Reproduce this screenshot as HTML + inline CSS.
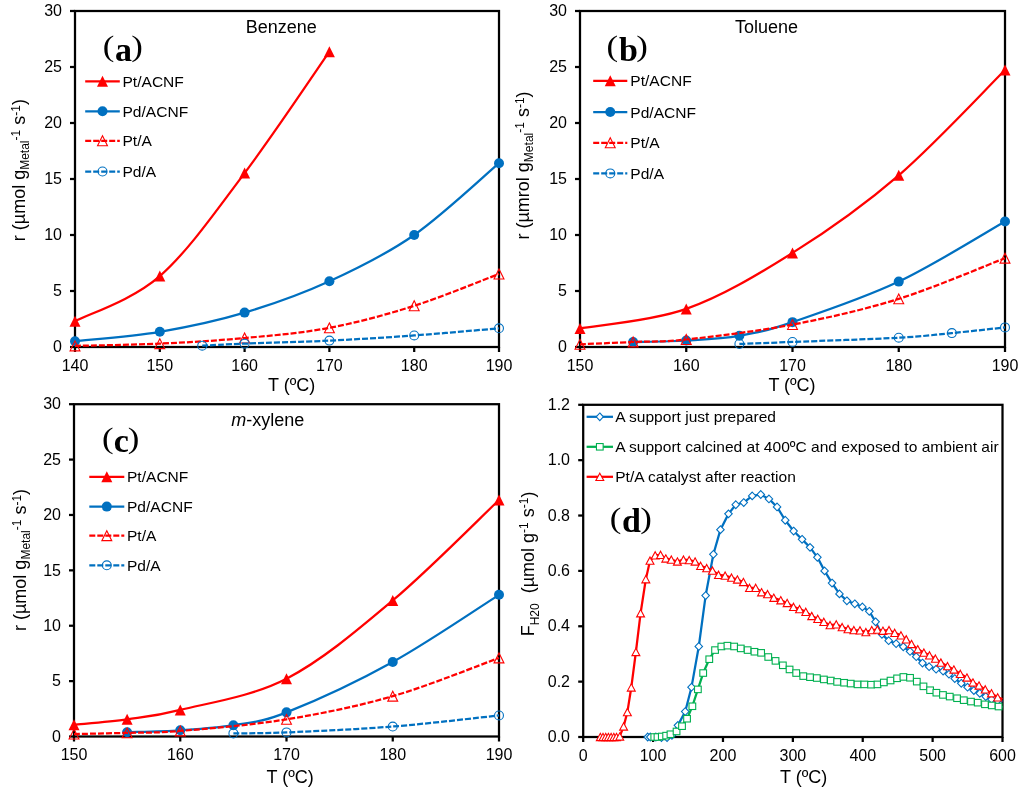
<!DOCTYPE html>
<html><head><meta charset="utf-8"><style>
html,body{margin:0;padding:0;background:#fff;width:1024px;height:793px;overflow:hidden;}
svg{display:block;will-change:transform;}
text{fill:#000;white-space:pre;}
</style></head><body>
<svg width="1024" height="793" viewBox="0 0 1024 793">
<rect width="1024" height="793" fill="#fff"/>
<rect x="75" y="11" width="424" height="336" fill="none" stroke="#000" stroke-width="2.25"/>
<line x1="75" y1="347" x2="75" y2="352" stroke="#000" stroke-width="2.25"/>
<text x="75" y="371" font-size="16" text-anchor="middle" font-family="'Liberation Sans', sans-serif" >140</text>
<line x1="159.8" y1="347" x2="159.8" y2="352" stroke="#000" stroke-width="2.25"/>
<text x="159.8" y="371" font-size="16" text-anchor="middle" font-family="'Liberation Sans', sans-serif" >150</text>
<line x1="244.6" y1="347" x2="244.6" y2="352" stroke="#000" stroke-width="2.25"/>
<text x="244.6" y="371" font-size="16" text-anchor="middle" font-family="'Liberation Sans', sans-serif" >160</text>
<line x1="329.4" y1="347" x2="329.4" y2="352" stroke="#000" stroke-width="2.25"/>
<text x="329.4" y="371" font-size="16" text-anchor="middle" font-family="'Liberation Sans', sans-serif" >170</text>
<line x1="414.2" y1="347" x2="414.2" y2="352" stroke="#000" stroke-width="2.25"/>
<text x="414.2" y="371" font-size="16" text-anchor="middle" font-family="'Liberation Sans', sans-serif" >180</text>
<line x1="499" y1="347" x2="499" y2="352" stroke="#000" stroke-width="2.25"/>
<text x="499" y="371" font-size="16" text-anchor="middle" font-family="'Liberation Sans', sans-serif" >190</text>
<line x1="70" y1="347" x2="75" y2="347" stroke="#000" stroke-width="2.25"/>
<text x="62" y="352.2" font-size="16" text-anchor="end" font-family="'Liberation Sans', sans-serif" >0</text>
<line x1="70" y1="291" x2="75" y2="291" stroke="#000" stroke-width="2.25"/>
<text x="62" y="296.2" font-size="16" text-anchor="end" font-family="'Liberation Sans', sans-serif" >5</text>
<line x1="70" y1="235" x2="75" y2="235" stroke="#000" stroke-width="2.25"/>
<text x="62" y="240.2" font-size="16" text-anchor="end" font-family="'Liberation Sans', sans-serif" >10</text>
<line x1="70" y1="179" x2="75" y2="179" stroke="#000" stroke-width="2.25"/>
<text x="62" y="184.2" font-size="16" text-anchor="end" font-family="'Liberation Sans', sans-serif" >15</text>
<line x1="70" y1="123" x2="75" y2="123" stroke="#000" stroke-width="2.25"/>
<text x="62" y="128.2" font-size="16" text-anchor="end" font-family="'Liberation Sans', sans-serif" >20</text>
<line x1="70" y1="67" x2="75" y2="67" stroke="#000" stroke-width="2.25"/>
<text x="62" y="72.2" font-size="16" text-anchor="end" font-family="'Liberation Sans', sans-serif" >25</text>
<line x1="70" y1="11" x2="75" y2="11" stroke="#000" stroke-width="2.25"/>
<text x="62" y="16.2" font-size="16" text-anchor="end" font-family="'Liberation Sans', sans-serif" >30</text>
<rect x="580" y="11" width="425" height="336" fill="none" stroke="#000" stroke-width="2.25"/>
<line x1="580" y1="347" x2="580" y2="352" stroke="#000" stroke-width="2.25"/>
<text x="580" y="371" font-size="16" text-anchor="middle" font-family="'Liberation Sans', sans-serif" >150</text>
<line x1="686.25" y1="347" x2="686.25" y2="352" stroke="#000" stroke-width="2.25"/>
<text x="686.25" y="371" font-size="16" text-anchor="middle" font-family="'Liberation Sans', sans-serif" >160</text>
<line x1="792.5" y1="347" x2="792.5" y2="352" stroke="#000" stroke-width="2.25"/>
<text x="792.5" y="371" font-size="16" text-anchor="middle" font-family="'Liberation Sans', sans-serif" >170</text>
<line x1="898.75" y1="347" x2="898.75" y2="352" stroke="#000" stroke-width="2.25"/>
<text x="898.75" y="371" font-size="16" text-anchor="middle" font-family="'Liberation Sans', sans-serif" >180</text>
<line x1="1005" y1="347" x2="1005" y2="352" stroke="#000" stroke-width="2.25"/>
<text x="1005" y="371" font-size="16" text-anchor="middle" font-family="'Liberation Sans', sans-serif" >190</text>
<line x1="575" y1="347" x2="580" y2="347" stroke="#000" stroke-width="2.25"/>
<text x="567" y="352.2" font-size="16" text-anchor="end" font-family="'Liberation Sans', sans-serif" >0</text>
<line x1="575" y1="291" x2="580" y2="291" stroke="#000" stroke-width="2.25"/>
<text x="567" y="296.2" font-size="16" text-anchor="end" font-family="'Liberation Sans', sans-serif" >5</text>
<line x1="575" y1="235" x2="580" y2="235" stroke="#000" stroke-width="2.25"/>
<text x="567" y="240.2" font-size="16" text-anchor="end" font-family="'Liberation Sans', sans-serif" >10</text>
<line x1="575" y1="179" x2="580" y2="179" stroke="#000" stroke-width="2.25"/>
<text x="567" y="184.2" font-size="16" text-anchor="end" font-family="'Liberation Sans', sans-serif" >15</text>
<line x1="575" y1="123" x2="580" y2="123" stroke="#000" stroke-width="2.25"/>
<text x="567" y="128.2" font-size="16" text-anchor="end" font-family="'Liberation Sans', sans-serif" >20</text>
<line x1="575" y1="67" x2="580" y2="67" stroke="#000" stroke-width="2.25"/>
<text x="567" y="72.2" font-size="16" text-anchor="end" font-family="'Liberation Sans', sans-serif" >25</text>
<line x1="575" y1="11" x2="580" y2="11" stroke="#000" stroke-width="2.25"/>
<text x="567" y="16.2" font-size="16" text-anchor="end" font-family="'Liberation Sans', sans-serif" >30</text>
<rect x="74" y="404.2" width="425" height="332.3" fill="none" stroke="#000" stroke-width="2.25"/>
<line x1="74" y1="736.5" x2="74" y2="741.5" stroke="#000" stroke-width="2.25"/>
<text x="74" y="760" font-size="16" text-anchor="middle" font-family="'Liberation Sans', sans-serif" >150</text>
<line x1="180.25" y1="736.5" x2="180.25" y2="741.5" stroke="#000" stroke-width="2.25"/>
<text x="180.25" y="760" font-size="16" text-anchor="middle" font-family="'Liberation Sans', sans-serif" >160</text>
<line x1="286.5" y1="736.5" x2="286.5" y2="741.5" stroke="#000" stroke-width="2.25"/>
<text x="286.5" y="760" font-size="16" text-anchor="middle" font-family="'Liberation Sans', sans-serif" >170</text>
<line x1="392.75" y1="736.5" x2="392.75" y2="741.5" stroke="#000" stroke-width="2.25"/>
<text x="392.75" y="760" font-size="16" text-anchor="middle" font-family="'Liberation Sans', sans-serif" >180</text>
<line x1="499" y1="736.5" x2="499" y2="741.5" stroke="#000" stroke-width="2.25"/>
<text x="499" y="760" font-size="16" text-anchor="middle" font-family="'Liberation Sans', sans-serif" >190</text>
<line x1="69" y1="736.5" x2="74" y2="736.5" stroke="#000" stroke-width="2.25"/>
<text x="61" y="741.7" font-size="16" text-anchor="end" font-family="'Liberation Sans', sans-serif" >0</text>
<line x1="69" y1="681.12" x2="74" y2="681.12" stroke="#000" stroke-width="2.25"/>
<text x="61" y="686.32" font-size="16" text-anchor="end" font-family="'Liberation Sans', sans-serif" >5</text>
<line x1="69" y1="625.73" x2="74" y2="625.73" stroke="#000" stroke-width="2.25"/>
<text x="61" y="630.93" font-size="16" text-anchor="end" font-family="'Liberation Sans', sans-serif" >10</text>
<line x1="69" y1="570.35" x2="74" y2="570.35" stroke="#000" stroke-width="2.25"/>
<text x="61" y="575.55" font-size="16" text-anchor="end" font-family="'Liberation Sans', sans-serif" >15</text>
<line x1="69" y1="514.97" x2="74" y2="514.97" stroke="#000" stroke-width="2.25"/>
<text x="61" y="520.17" font-size="16" text-anchor="end" font-family="'Liberation Sans', sans-serif" >20</text>
<line x1="69" y1="459.58" x2="74" y2="459.58" stroke="#000" stroke-width="2.25"/>
<text x="61" y="464.78" font-size="16" text-anchor="end" font-family="'Liberation Sans', sans-serif" >25</text>
<line x1="69" y1="404.2" x2="74" y2="404.2" stroke="#000" stroke-width="2.25"/>
<text x="61" y="409.4" font-size="16" text-anchor="end" font-family="'Liberation Sans', sans-serif" >30</text>
<rect x="583.2" y="404.8" width="419.3" height="332.2" fill="none" stroke="#000" stroke-width="2.25"/>
<line x1="583.2" y1="737" x2="583.2" y2="742" stroke="#000" stroke-width="2.25"/>
<text x="583.2" y="760.5" font-size="16" text-anchor="middle" font-family="'Liberation Sans', sans-serif" >0</text>
<line x1="653.08" y1="737" x2="653.08" y2="742" stroke="#000" stroke-width="2.25"/>
<text x="653.08" y="760.5" font-size="16" text-anchor="middle" font-family="'Liberation Sans', sans-serif" >100</text>
<line x1="722.97" y1="737" x2="722.97" y2="742" stroke="#000" stroke-width="2.25"/>
<text x="722.97" y="760.5" font-size="16" text-anchor="middle" font-family="'Liberation Sans', sans-serif" >200</text>
<line x1="792.85" y1="737" x2="792.85" y2="742" stroke="#000" stroke-width="2.25"/>
<text x="792.85" y="760.5" font-size="16" text-anchor="middle" font-family="'Liberation Sans', sans-serif" >300</text>
<line x1="862.73" y1="737" x2="862.73" y2="742" stroke="#000" stroke-width="2.25"/>
<text x="862.73" y="760.5" font-size="16" text-anchor="middle" font-family="'Liberation Sans', sans-serif" >400</text>
<line x1="932.62" y1="737" x2="932.62" y2="742" stroke="#000" stroke-width="2.25"/>
<text x="932.62" y="760.5" font-size="16" text-anchor="middle" font-family="'Liberation Sans', sans-serif" >500</text>
<line x1="1002.5" y1="737" x2="1002.5" y2="742" stroke="#000" stroke-width="2.25"/>
<text x="1002.5" y="760.5" font-size="16" text-anchor="middle" font-family="'Liberation Sans', sans-serif" >600</text>
<line x1="578.2" y1="737" x2="583.2" y2="737" stroke="#000" stroke-width="2.25"/>
<text x="570" y="742.2" font-size="16" text-anchor="end" font-family="'Liberation Sans', sans-serif" >0.0</text>
<line x1="578.2" y1="681.63" x2="583.2" y2="681.63" stroke="#000" stroke-width="2.25"/>
<text x="570" y="686.83" font-size="16" text-anchor="end" font-family="'Liberation Sans', sans-serif" >0.2</text>
<line x1="578.2" y1="626.27" x2="583.2" y2="626.27" stroke="#000" stroke-width="2.25"/>
<text x="570" y="631.47" font-size="16" text-anchor="end" font-family="'Liberation Sans', sans-serif" >0.4</text>
<line x1="578.2" y1="570.9" x2="583.2" y2="570.9" stroke="#000" stroke-width="2.25"/>
<text x="570" y="576.1" font-size="16" text-anchor="end" font-family="'Liberation Sans', sans-serif" >0.6</text>
<line x1="578.2" y1="515.53" x2="583.2" y2="515.53" stroke="#000" stroke-width="2.25"/>
<text x="570" y="520.73" font-size="16" text-anchor="end" font-family="'Liberation Sans', sans-serif" >0.8</text>
<line x1="578.2" y1="460.17" x2="583.2" y2="460.17" stroke="#000" stroke-width="2.25"/>
<text x="570" y="465.37" font-size="16" text-anchor="end" font-family="'Liberation Sans', sans-serif" >1.0</text>
<line x1="578.2" y1="404.8" x2="583.2" y2="404.8" stroke="#000" stroke-width="2.25"/>
<text x="570" y="410" font-size="16" text-anchor="end" font-family="'Liberation Sans', sans-serif" >1.2</text>
<path d="M75,321.24 C89.13,313.72 131.53,300.8 159.8,276.1 C188.07,251.41 216.33,210.47 244.6,173.06 C272.87,135.66 315.27,71.89 329.4,51.66" fill="none" stroke="#FF0000" stroke-width="2.25" stroke-linejoin="round"/>
<path d="M75,315.74 L80.5,326.74 L69.5,326.74 Z" fill="#FF0000"/>
<path d="M159.8,270.6 L165.3,281.6 L154.3,281.6 Z" fill="#FF0000"/>
<path d="M244.6,167.56 L250.1,178.56 L239.1,178.56 Z" fill="#FF0000"/>
<path d="M329.4,46.16 L334.9,57.16 L323.9,57.16 Z" fill="#FF0000"/>
<path d="M75,341.18 C89.13,339.61 131.53,336.53 159.8,331.77 C188.07,327.01 216.33,321.03 244.6,312.62 C272.87,304.2 301.13,294.19 329.4,281.26 C357.67,268.32 385.93,254.67 414.2,235 C442.47,215.33 484.87,175.17 499,163.21" fill="none" stroke="#0070C0" stroke-width="2.25" stroke-linejoin="round"/>
<circle cx="75" cy="341.18" r="5" fill="#0070C0"/>
<circle cx="159.8" cy="331.77" r="5" fill="#0070C0"/>
<circle cx="244.6" cy="312.62" r="5" fill="#0070C0"/>
<circle cx="329.4" cy="281.26" r="5" fill="#0070C0"/>
<circle cx="414.2" cy="235" r="5" fill="#0070C0"/>
<circle cx="499" cy="163.21" r="5" fill="#0070C0"/>
<path d="M75,345.88 C89.13,345.51 131.53,344.95 159.8,343.64 C188.07,342.33 216.33,340.67 244.6,338.04 C272.87,335.41 301.13,333.22 329.4,327.85 C357.67,322.47 385.93,314.76 414.2,305.78 C442.47,296.81 484.87,279.28 499,273.98" fill="none" stroke="#FF0000" stroke-width="2.25" stroke-dasharray="6 2" stroke-linejoin="round"/>
<path d="M75,340.93 L79.95,350.83 L70.05,350.83 Z" fill="none" stroke="#FF0000" stroke-width="1.1" stroke-linejoin="miter"/>
<path d="M159.8,338.69 L164.75,348.59 L154.85,348.59 Z" fill="none" stroke="#FF0000" stroke-width="1.1" stroke-linejoin="miter"/>
<path d="M244.6,333.09 L249.55,342.99 L239.65,342.99 Z" fill="none" stroke="#FF0000" stroke-width="1.1" stroke-linejoin="miter"/>
<path d="M329.4,322.9 L334.35,332.8 L324.45,332.8 Z" fill="none" stroke="#FF0000" stroke-width="1.1" stroke-linejoin="miter"/>
<path d="M414.2,300.83 L419.15,310.73 L409.25,310.73 Z" fill="none" stroke="#FF0000" stroke-width="1.1" stroke-linejoin="miter"/>
<path d="M499,269.03 L503.95,278.93 L494.05,278.93 Z" fill="none" stroke="#FF0000" stroke-width="1.1" stroke-linejoin="miter"/>
<path d="M202.2,345.66 C209.27,345.32 223.4,344.48 244.6,343.64 C265.8,342.8 301.13,341.98 329.4,340.62 C357.67,339.25 385.93,337.52 414.2,335.46 C442.47,333.41 484.87,329.49 499,328.3" fill="none" stroke="#0070C0" stroke-width="2.25" stroke-dasharray="6 2" stroke-linejoin="round"/>
<circle cx="202.2" cy="345.66" r="4.45" fill="none" stroke="#0070C0" stroke-width="1.1"/>
<circle cx="244.6" cy="343.64" r="4.45" fill="none" stroke="#0070C0" stroke-width="1.1"/>
<circle cx="329.4" cy="340.62" r="4.45" fill="none" stroke="#0070C0" stroke-width="1.1"/>
<circle cx="414.2" cy="335.46" r="4.45" fill="none" stroke="#0070C0" stroke-width="1.1"/>
<circle cx="499" cy="328.3" r="4.45" fill="none" stroke="#0070C0" stroke-width="1.1"/>
<text x="281.3" y="32.7" font-size="18" text-anchor="middle" font-family="'Liberation Sans', sans-serif" >Benzene</text>
<text transform="translate(102.74,56.4) scale(1.16,1)" font-family="'Liberation Serif', serif" font-size="30">(</text>
<text x="115" y="60.6" font-family="'Liberation Serif', serif" font-size="34" font-weight="bold">a</text>
<text transform="translate(131.24,56.4) scale(1.16,1)" font-family="'Liberation Serif', serif" font-size="30">)</text>
<line x1="85.2" y1="81.3" x2="119.8" y2="81.3" stroke="#FF0000" stroke-width="2.25"/>
<path d="M102.5,75.8 L108,86.8 L97,86.8 Z" fill="#FF0000"/>
<text x="122.5" y="86.8" font-size="15.55" text-anchor="start" font-family="'Liberation Sans', sans-serif" >Pt/ACNF</text>
<line x1="85.2" y1="111.3" x2="119.8" y2="111.3" stroke="#0070C0" stroke-width="2.25"/>
<circle cx="102.5" cy="111.3" r="5" fill="#0070C0"/>
<text x="122.5" y="116.8" font-size="15.55" text-anchor="start" font-family="'Liberation Sans', sans-serif" >Pd/ACNF</text>
<line x1="85.2" y1="140.8" x2="119.8" y2="140.8" stroke="#FF0000" stroke-width="2.25" stroke-dasharray="6 2"/>
<path d="M102.5,135.85 L107.45,145.75 L97.55,145.75 Z" fill="none" stroke="#FF0000" stroke-width="1.1" stroke-linejoin="miter"/>
<text x="122.5" y="146.3" font-size="15.55" text-anchor="start" font-family="'Liberation Sans', sans-serif" >Pt/A</text>
<line x1="85.2" y1="171.5" x2="119.8" y2="171.5" stroke="#0070C0" stroke-width="2.25" stroke-dasharray="6 2"/>
<circle cx="102.5" cy="171.5" r="4.45" fill="none" stroke="#0070C0" stroke-width="1.1"/>
<text x="122.5" y="177" font-size="15.55" text-anchor="start" font-family="'Liberation Sans', sans-serif" >Pd/A</text>
<text transform="translate(25,241.2) rotate(-90)" x="0" y="0" font-family="'Liberation Sans', sans-serif" font-size="18">r (µmol g<tspan font-size="12" dy="4">Metal</tspan><tspan font-size="12" dy="-9">-1</tspan><tspan dy="5"> s</tspan><tspan font-size="12" dy="-5">-1</tspan><tspan dy="5">)</tspan></text>
<text x="291.6" y="391" font-size="18" text-anchor="middle" font-family="'Liberation Sans', sans-serif" >T (ºC)</text>
<path d="M580,328.41 C597.71,325.16 650.83,321.5 686.25,308.92 C721.67,296.34 757.08,275.19 792.5,252.92 C827.92,230.65 863.33,205.79 898.75,175.3 C934.17,144.82 987.29,87.57 1005,70.02" fill="none" stroke="#FF0000" stroke-width="2.25" stroke-linejoin="round"/>
<path d="M580,322.91 L585.5,333.91 L574.5,333.91 Z" fill="#FF0000"/>
<path d="M686.25,303.42 L691.75,314.42 L680.75,314.42 Z" fill="#FF0000"/>
<path d="M792.5,247.42 L798,258.42 L787,258.42 Z" fill="#FF0000"/>
<path d="M898.75,169.8 L904.25,180.8 L893.25,180.8 Z" fill="#FF0000"/>
<path d="M1005,64.52 L1010.5,75.52 L999.5,75.52 Z" fill="#FF0000"/>
<path d="M633.12,342.07 C641.98,341.81 668.54,341.55 686.25,340.5 C703.96,339.46 721.67,338.86 739.38,335.8 C757.08,332.74 765.94,331.17 792.5,322.14 C819.06,313.1 863.33,298.35 898.75,281.59 C934.17,264.83 987.29,231.57 1005,221.56" fill="none" stroke="#0070C0" stroke-width="2.25" stroke-linejoin="round"/>
<circle cx="633.12" cy="342.07" r="5" fill="#0070C0"/>
<circle cx="686.25" cy="340.5" r="5" fill="#0070C0"/>
<circle cx="739.38" cy="335.8" r="5" fill="#0070C0"/>
<circle cx="792.5" cy="322.14" r="5" fill="#0070C0"/>
<circle cx="898.75" cy="281.59" r="5" fill="#0070C0"/>
<circle cx="1005" cy="221.56" r="5" fill="#0070C0"/>
<path d="M580,344.31 C588.85,343.92 615.42,342.76 633.12,341.96 C650.83,341.16 659.69,342.39 686.25,339.5 C712.81,336.6 757.08,331.38 792.5,324.6 C827.92,317.82 863.33,309.91 898.75,298.84 C934.17,287.77 987.29,264.96 1005,258.18" fill="none" stroke="#FF0000" stroke-width="2.25" stroke-dasharray="6 2" stroke-linejoin="round"/>
<path d="M580,339.36 L584.95,349.26 L575.05,349.26 Z" fill="none" stroke="#FF0000" stroke-width="1.1" stroke-linejoin="miter"/>
<path d="M633.12,337.01 L638.08,346.91 L628.17,346.91 Z" fill="none" stroke="#FF0000" stroke-width="1.1" stroke-linejoin="miter"/>
<path d="M686.25,334.55 L691.2,344.45 L681.3,344.45 Z" fill="none" stroke="#FF0000" stroke-width="1.1" stroke-linejoin="miter"/>
<path d="M792.5,319.65 L797.45,329.55 L787.55,329.55 Z" fill="none" stroke="#FF0000" stroke-width="1.1" stroke-linejoin="miter"/>
<path d="M898.75,293.89 L903.7,303.79 L893.8,303.79 Z" fill="none" stroke="#FF0000" stroke-width="1.1" stroke-linejoin="miter"/>
<path d="M1005,253.23 L1009.95,263.13 L1000.05,263.13 Z" fill="none" stroke="#FF0000" stroke-width="1.1" stroke-linejoin="miter"/>
<path d="M739.38,343.98 C748.23,343.64 765.94,343.01 792.5,341.96 C819.06,340.91 872.19,339.18 898.75,337.7 C925.31,336.23 934.17,334.83 951.88,333.11 C969.58,331.39 996.15,328.35 1005,327.4" fill="none" stroke="#0070C0" stroke-width="2.25" stroke-dasharray="6 2" stroke-linejoin="round"/>
<circle cx="739.38" cy="343.98" r="4.45" fill="none" stroke="#0070C0" stroke-width="1.1"/>
<circle cx="792.5" cy="341.96" r="4.45" fill="none" stroke="#0070C0" stroke-width="1.1"/>
<circle cx="898.75" cy="337.7" r="4.45" fill="none" stroke="#0070C0" stroke-width="1.1"/>
<circle cx="951.88" cy="333.11" r="4.45" fill="none" stroke="#0070C0" stroke-width="1.1"/>
<circle cx="1005" cy="327.4" r="4.45" fill="none" stroke="#0070C0" stroke-width="1.1"/>
<text x="766.6" y="33" font-size="18" text-anchor="middle" font-family="'Liberation Sans', sans-serif" >Toluene</text>
<text transform="translate(606.44,56.4) scale(1.16,1)" font-family="'Liberation Serif', serif" font-size="30">(</text>
<text x="619" y="60.6" font-family="'Liberation Serif', serif" font-size="34" font-weight="bold">b</text>
<text transform="translate(636.24,56.4) scale(1.16,1)" font-family="'Liberation Serif', serif" font-size="30">)</text>
<line x1="593.2" y1="80.8" x2="627.3" y2="80.8" stroke="#FF0000" stroke-width="2.25"/>
<path d="M610.25,75.3 L615.75,86.3 L604.75,86.3 Z" fill="#FF0000"/>
<text x="630.3" y="86.3" font-size="15.55" text-anchor="start" font-family="'Liberation Sans', sans-serif" >Pt/ACNF</text>
<line x1="593.2" y1="112" x2="627.3" y2="112" stroke="#0070C0" stroke-width="2.25"/>
<circle cx="610.25" cy="112" r="5" fill="#0070C0"/>
<text x="630.3" y="117.5" font-size="15.55" text-anchor="start" font-family="'Liberation Sans', sans-serif" >Pd/ACNF</text>
<line x1="593.2" y1="142.8" x2="627.3" y2="142.8" stroke="#FF0000" stroke-width="2.25" stroke-dasharray="6 2"/>
<path d="M610.25,137.85 L615.2,147.75 L605.3,147.75 Z" fill="none" stroke="#FF0000" stroke-width="1.1" stroke-linejoin="miter"/>
<text x="630.3" y="148.3" font-size="15.55" text-anchor="start" font-family="'Liberation Sans', sans-serif" >Pt/A</text>
<line x1="593.2" y1="173.4" x2="627.3" y2="173.4" stroke="#0070C0" stroke-width="2.25" stroke-dasharray="6 2"/>
<circle cx="610.25" cy="173.4" r="4.45" fill="none" stroke="#0070C0" stroke-width="1.1"/>
<text x="630.3" y="178.9" font-size="15.55" text-anchor="start" font-family="'Liberation Sans', sans-serif" >Pd/A</text>
<text transform="translate(529,239.5) rotate(-90)" x="0" y="0" font-family="'Liberation Sans', sans-serif" font-size="18">r (µmrol g<tspan font-size="12" dy="4">Metal</tspan><tspan font-size="12" dy="-9">-1</tspan><tspan dy="5"> s</tspan><tspan font-size="12" dy="-5">-1</tspan><tspan dy="5">)</tspan></text>
<text x="792" y="391" font-size="18" text-anchor="middle" font-family="'Liberation Sans', sans-serif" >T (ºC)</text>
<path d="M74,724.76 C82.85,723.85 109.42,721.8 127.12,719.33 C144.83,716.86 153.69,716.69 180.25,709.92 C206.81,703.14 251.08,696.92 286.5,678.68 C321.92,660.44 357.33,630.26 392.75,600.48 C428.17,570.7 481.29,516.76 499,500.01" fill="none" stroke="#FF0000" stroke-width="2.25" stroke-linejoin="round"/>
<path d="M74,719.26 L79.5,730.26 L68.5,730.26 Z" fill="#FF0000"/>
<path d="M127.12,713.83 L132.62,724.83 L121.62,724.83 Z" fill="#FF0000"/>
<path d="M180.25,704.42 L185.75,715.42 L174.75,715.42 Z" fill="#FF0000"/>
<path d="M286.5,673.18 L292,684.18 L281,684.18 Z" fill="#FF0000"/>
<path d="M392.75,594.98 L398.25,605.98 L387.25,605.98 Z" fill="#FF0000"/>
<path d="M499,494.51 L504.5,505.51 L493.5,505.51 Z" fill="#FF0000"/>
<path d="M127.12,732.18 C135.98,731.87 162.54,731.46 180.25,730.3 C197.96,729.13 215.67,728.19 233.38,725.2 C251.08,722.21 259.94,722.89 286.5,712.35 C313.06,701.81 357.33,681.54 392.75,661.95 C428.17,642.37 481.29,606.02 499,594.83" fill="none" stroke="#0070C0" stroke-width="2.25" stroke-linejoin="round"/>
<circle cx="127.12" cy="732.18" r="5" fill="#0070C0"/>
<circle cx="180.25" cy="730.3" r="5" fill="#0070C0"/>
<circle cx="233.38" cy="725.2" r="5" fill="#0070C0"/>
<circle cx="286.5" cy="712.35" r="5" fill="#0070C0"/>
<circle cx="392.75" cy="661.95" r="5" fill="#0070C0"/>
<circle cx="499" cy="594.83" r="5" fill="#0070C0"/>
<path d="M74,734.06 C82.85,733.86 109.42,733.36 127.12,732.84 C144.83,732.33 153.69,733.21 180.25,730.96 C206.81,728.71 251.08,725.13 286.5,719.33 C321.92,713.53 357.33,706.41 392.75,696.18 C428.17,685.95 481.29,664.34 499,657.97" fill="none" stroke="#FF0000" stroke-width="2.25" stroke-dasharray="6 2" stroke-linejoin="round"/>
<path d="M74,729.11 L78.95,739.01 L69.05,739.01 Z" fill="none" stroke="#FF0000" stroke-width="1.1" stroke-linejoin="miter"/>
<path d="M127.12,727.89 L132.07,737.79 L122.17,737.79 Z" fill="none" stroke="#FF0000" stroke-width="1.1" stroke-linejoin="miter"/>
<path d="M180.25,726.01 L185.2,735.91 L175.3,735.91 Z" fill="none" stroke="#FF0000" stroke-width="1.1" stroke-linejoin="miter"/>
<path d="M286.5,714.38 L291.45,724.28 L281.55,724.28 Z" fill="none" stroke="#FF0000" stroke-width="1.1" stroke-linejoin="miter"/>
<path d="M392.75,691.23 L397.7,701.13 L387.8,701.13 Z" fill="none" stroke="#FF0000" stroke-width="1.1" stroke-linejoin="miter"/>
<path d="M499,653.02 L503.95,662.92 L494.05,662.92 Z" fill="none" stroke="#FF0000" stroke-width="1.1" stroke-linejoin="miter"/>
<path d="M233.38,733.4 C242.23,733.23 259.94,733.55 286.5,732.4 C313.06,731.26 357.33,729.36 392.75,726.53 C428.17,723.71 481.29,717.3 499,715.45" fill="none" stroke="#0070C0" stroke-width="2.25" stroke-dasharray="6 2" stroke-linejoin="round"/>
<circle cx="233.38" cy="733.4" r="4.45" fill="none" stroke="#0070C0" stroke-width="1.1"/>
<circle cx="286.5" cy="732.4" r="4.45" fill="none" stroke="#0070C0" stroke-width="1.1"/>
<circle cx="392.75" cy="726.53" r="4.45" fill="none" stroke="#0070C0" stroke-width="1.1"/>
<circle cx="499" cy="715.45" r="4.45" fill="none" stroke="#0070C0" stroke-width="1.1"/>
<text x="267.7" y="425.8" font-size="18" text-anchor="middle" font-family="'Liberation Sans', sans-serif"><tspan font-style="italic">m</tspan>-xylene</text>
<text transform="translate(101.94,447.7) scale(1.16,1)" font-family="'Liberation Serif', serif" font-size="30">(</text>
<text x="113.7" y="451.9" font-family="'Liberation Serif', serif" font-size="34" font-weight="bold">c</text>
<text transform="translate(127.84,447.7) scale(1.16,1)" font-family="'Liberation Serif', serif" font-size="30">)</text>
<line x1="89.3" y1="476.8" x2="124.3" y2="476.8" stroke="#FF0000" stroke-width="2.25"/>
<path d="M106.8,471.3 L112.3,482.3 L101.3,482.3 Z" fill="#FF0000"/>
<text x="127" y="482.3" font-size="15.55" text-anchor="start" font-family="'Liberation Sans', sans-serif" >Pt/ACNF</text>
<line x1="89.3" y1="506.6" x2="124.3" y2="506.6" stroke="#0070C0" stroke-width="2.25"/>
<circle cx="106.8" cy="506.6" r="5" fill="#0070C0"/>
<text x="127" y="512.1" font-size="15.55" text-anchor="start" font-family="'Liberation Sans', sans-serif" >Pd/ACNF</text>
<line x1="89.3" y1="535.7" x2="124.3" y2="535.7" stroke="#FF0000" stroke-width="2.25" stroke-dasharray="6 2"/>
<path d="M106.8,530.75 L111.75,540.65 L101.85,540.65 Z" fill="none" stroke="#FF0000" stroke-width="1.1" stroke-linejoin="miter"/>
<text x="127" y="541.2" font-size="15.55" text-anchor="start" font-family="'Liberation Sans', sans-serif" >Pt/A</text>
<line x1="89.3" y1="565.3" x2="124.3" y2="565.3" stroke="#0070C0" stroke-width="2.25" stroke-dasharray="6 2"/>
<circle cx="106.8" cy="565.3" r="4.45" fill="none" stroke="#0070C0" stroke-width="1.1"/>
<text x="127" y="570.8" font-size="15.55" text-anchor="start" font-family="'Liberation Sans', sans-serif" >Pd/A</text>
<text transform="translate(25.5,631) rotate(-90)" x="0" y="0" font-family="'Liberation Sans', sans-serif" font-size="18">r (µmol g<tspan font-size="12" dy="4">Metal</tspan><tspan font-size="12" dy="-9">-1</tspan><tspan dy="5"> s</tspan><tspan font-size="12" dy="-5">-1</tspan><tspan dy="5">)</tspan></text>
<text x="290.2" y="782.7" font-size="18" text-anchor="middle" font-family="'Liberation Sans', sans-serif" >T (ºC)</text>
<path d="M647.7,737 L650.29,737 L655.88,737 L661.47,737.55 L667.06,737.55 L671.95,735.34 L677.89,725.37 L685.23,711.53 L691.52,687.17 L698.79,646.48 L705.64,595.54 L713.39,554.29 L720.45,529.65 L728.49,513.87 L735.76,504.74 L743.72,502.52 L752.18,495.88 L760.77,494.49 L768.95,498.92 L777.06,506.95 L785.23,520.24 L793.62,531.04 L802.07,539.34 L810.04,547.37 L817.38,557.34 L824.58,570.9 L832.05,583.08 L839.46,593.88 L846.87,600.8 L854.77,603.84 L862.38,606.89 L869.3,611.32 L875.59,621.84 L881.95,634.29 L888.66,640.66 L896.14,643.71 L903.27,646.75 L910.04,651.46 L916.26,656.72 L922.48,663.09 L929.12,666.68 L936.11,669.18 L943.1,671.11 L948.97,674.16 L954.77,678.59 L961.27,683.29 L967.56,687.17 L973.85,690.49 L979.79,693.26 L985.73,696.58 L991.53,699.35 L997.47,700.73 L1002.5,701.29" fill="none" stroke="#0070C0" stroke-width="2.25" stroke-linejoin="round"/>
<path d="M647.7,733.15 L651.45,737 L647.7,740.85 L643.95,737 Z" fill="#fff" stroke="#0070C0" stroke-width="1.1"/>
<path d="M650.29,733.15 L654.04,737 L650.29,740.85 L646.54,737 Z" fill="#fff" stroke="#0070C0" stroke-width="1.1"/>
<path d="M655.88,733.15 L659.63,737 L655.88,740.85 L652.13,737 Z" fill="#fff" stroke="#0070C0" stroke-width="1.1"/>
<path d="M661.47,733.7 L665.22,737.55 L661.47,741.4 L657.72,737.55 Z" fill="#fff" stroke="#0070C0" stroke-width="1.1"/>
<path d="M667.06,733.7 L670.81,737.55 L667.06,741.4 L663.31,737.55 Z" fill="#fff" stroke="#0070C0" stroke-width="1.1"/>
<path d="M671.95,731.49 L675.7,735.34 L671.95,739.19 L668.2,735.34 Z" fill="#fff" stroke="#0070C0" stroke-width="1.1"/>
<path d="M677.89,721.52 L681.64,725.37 L677.89,729.22 L674.14,725.37 Z" fill="#fff" stroke="#0070C0" stroke-width="1.1"/>
<path d="M685.23,707.68 L688.98,711.53 L685.23,715.38 L681.48,711.53 Z" fill="#fff" stroke="#0070C0" stroke-width="1.1"/>
<path d="M691.52,683.32 L695.27,687.17 L691.52,691.02 L687.77,687.17 Z" fill="#fff" stroke="#0070C0" stroke-width="1.1"/>
<path d="M698.79,642.63 L702.54,646.48 L698.79,650.33 L695.04,646.48 Z" fill="#fff" stroke="#0070C0" stroke-width="1.1"/>
<path d="M705.64,591.69 L709.39,595.54 L705.64,599.39 L701.89,595.54 Z" fill="#fff" stroke="#0070C0" stroke-width="1.1"/>
<path d="M713.39,550.44 L717.14,554.29 L713.39,558.14 L709.64,554.29 Z" fill="#fff" stroke="#0070C0" stroke-width="1.1"/>
<path d="M720.45,525.8 L724.2,529.65 L720.45,533.5 L716.7,529.65 Z" fill="#fff" stroke="#0070C0" stroke-width="1.1"/>
<path d="M728.49,510.02 L732.24,513.87 L728.49,517.72 L724.74,513.87 Z" fill="#fff" stroke="#0070C0" stroke-width="1.1"/>
<path d="M735.76,500.89 L739.51,504.74 L735.76,508.59 L732.01,504.74 Z" fill="#fff" stroke="#0070C0" stroke-width="1.1"/>
<path d="M743.72,498.67 L747.47,502.52 L743.72,506.37 L739.97,502.52 Z" fill="#fff" stroke="#0070C0" stroke-width="1.1"/>
<path d="M752.18,492.03 L755.93,495.88 L752.18,499.73 L748.43,495.88 Z" fill="#fff" stroke="#0070C0" stroke-width="1.1"/>
<path d="M760.77,490.64 L764.52,494.49 L760.77,498.34 L757.02,494.49 Z" fill="#fff" stroke="#0070C0" stroke-width="1.1"/>
<path d="M768.95,495.07 L772.7,498.92 L768.95,502.77 L765.2,498.92 Z" fill="#fff" stroke="#0070C0" stroke-width="1.1"/>
<path d="M777.06,503.1 L780.81,506.95 L777.06,510.8 L773.31,506.95 Z" fill="#fff" stroke="#0070C0" stroke-width="1.1"/>
<path d="M785.23,516.39 L788.98,520.24 L785.23,524.09 L781.48,520.24 Z" fill="#fff" stroke="#0070C0" stroke-width="1.1"/>
<path d="M793.62,527.19 L797.37,531.04 L793.62,534.89 L789.87,531.04 Z" fill="#fff" stroke="#0070C0" stroke-width="1.1"/>
<path d="M802.07,535.49 L805.82,539.34 L802.07,543.19 L798.32,539.34 Z" fill="#fff" stroke="#0070C0" stroke-width="1.1"/>
<path d="M810.04,543.52 L813.79,547.37 L810.04,551.22 L806.29,547.37 Z" fill="#fff" stroke="#0070C0" stroke-width="1.1"/>
<path d="M817.38,553.49 L821.13,557.34 L817.38,561.19 L813.63,557.34 Z" fill="#fff" stroke="#0070C0" stroke-width="1.1"/>
<path d="M824.58,567.05 L828.33,570.9 L824.58,574.75 L820.83,570.9 Z" fill="#fff" stroke="#0070C0" stroke-width="1.1"/>
<path d="M832.05,579.23 L835.8,583.08 L832.05,586.93 L828.3,583.08 Z" fill="#fff" stroke="#0070C0" stroke-width="1.1"/>
<path d="M839.46,590.03 L843.21,593.88 L839.46,597.73 L835.71,593.88 Z" fill="#fff" stroke="#0070C0" stroke-width="1.1"/>
<path d="M846.87,596.95 L850.62,600.8 L846.87,604.65 L843.12,600.8 Z" fill="#fff" stroke="#0070C0" stroke-width="1.1"/>
<path d="M854.77,599.99 L858.52,603.84 L854.77,607.69 L851.02,603.84 Z" fill="#fff" stroke="#0070C0" stroke-width="1.1"/>
<path d="M862.38,603.04 L866.13,606.89 L862.38,610.74 L858.63,606.89 Z" fill="#fff" stroke="#0070C0" stroke-width="1.1"/>
<path d="M869.3,607.47 L873.05,611.32 L869.3,615.17 L865.55,611.32 Z" fill="#fff" stroke="#0070C0" stroke-width="1.1"/>
<path d="M875.59,617.99 L879.34,621.84 L875.59,625.69 L871.84,621.84 Z" fill="#fff" stroke="#0070C0" stroke-width="1.1"/>
<path d="M881.95,630.44 L885.7,634.29 L881.95,638.14 L878.2,634.29 Z" fill="#fff" stroke="#0070C0" stroke-width="1.1"/>
<path d="M888.66,636.81 L892.41,640.66 L888.66,644.51 L884.91,640.66 Z" fill="#fff" stroke="#0070C0" stroke-width="1.1"/>
<path d="M896.14,639.86 L899.89,643.71 L896.14,647.56 L892.39,643.71 Z" fill="#fff" stroke="#0070C0" stroke-width="1.1"/>
<path d="M903.27,642.9 L907.02,646.75 L903.27,650.6 L899.52,646.75 Z" fill="#fff" stroke="#0070C0" stroke-width="1.1"/>
<path d="M910.04,647.61 L913.79,651.46 L910.04,655.31 L906.29,651.46 Z" fill="#fff" stroke="#0070C0" stroke-width="1.1"/>
<path d="M916.26,652.87 L920.01,656.72 L916.26,660.57 L912.51,656.72 Z" fill="#fff" stroke="#0070C0" stroke-width="1.1"/>
<path d="M922.48,659.24 L926.23,663.09 L922.48,666.94 L918.73,663.09 Z" fill="#fff" stroke="#0070C0" stroke-width="1.1"/>
<path d="M929.12,662.83 L932.87,666.68 L929.12,670.53 L925.37,666.68 Z" fill="#fff" stroke="#0070C0" stroke-width="1.1"/>
<path d="M936.11,665.33 L939.86,669.18 L936.11,673.03 L932.36,669.18 Z" fill="#fff" stroke="#0070C0" stroke-width="1.1"/>
<path d="M943.1,667.26 L946.85,671.11 L943.1,674.96 L939.35,671.11 Z" fill="#fff" stroke="#0070C0" stroke-width="1.1"/>
<path d="M948.97,670.31 L952.72,674.16 L948.97,678.01 L945.22,674.16 Z" fill="#fff" stroke="#0070C0" stroke-width="1.1"/>
<path d="M954.77,674.74 L958.52,678.59 L954.77,682.44 L951.02,678.59 Z" fill="#fff" stroke="#0070C0" stroke-width="1.1"/>
<path d="M961.27,679.44 L965.02,683.29 L961.27,687.14 L957.52,683.29 Z" fill="#fff" stroke="#0070C0" stroke-width="1.1"/>
<path d="M967.56,683.32 L971.31,687.17 L967.56,691.02 L963.81,687.17 Z" fill="#fff" stroke="#0070C0" stroke-width="1.1"/>
<path d="M973.85,686.64 L977.6,690.49 L973.85,694.34 L970.1,690.49 Z" fill="#fff" stroke="#0070C0" stroke-width="1.1"/>
<path d="M979.79,689.41 L983.54,693.26 L979.79,697.11 L976.04,693.26 Z" fill="#fff" stroke="#0070C0" stroke-width="1.1"/>
<path d="M985.73,692.73 L989.48,696.58 L985.73,700.43 L981.98,696.58 Z" fill="#fff" stroke="#0070C0" stroke-width="1.1"/>
<path d="M991.53,695.5 L995.28,699.35 L991.53,703.2 L987.78,699.35 Z" fill="#fff" stroke="#0070C0" stroke-width="1.1"/>
<path d="M997.47,696.88 L1001.22,700.73 L997.47,704.58 L993.72,700.73 Z" fill="#fff" stroke="#0070C0" stroke-width="1.1"/>
<path d="M654.27,737 L657.49,737 L661.82,736.45 L666.15,735.62 L670.48,734.23 L676.56,731.46 L682.02,726.2 L687.05,718.73 L692.36,706.27 L697.88,689.38 L703.19,673.05 L709.27,659.21 L715.07,650.07 L721.36,646.48 L727.44,645.64 L734.15,646.48 L740.79,648.41 L747.64,650.07 L754.48,651.74 L761.12,652.84 L768.25,657 L775.52,660.87 L782.86,665.3 L789.57,669.45 L796.2,673.05 L803.26,676.1 L810.04,677.2 L816.82,678.03 L823.88,679.42 L830.8,680.53 L837.16,681.91 L844.14,682.74 L850.71,683.57 L857.56,684.4 L864.34,684.4 L871.12,684.68 L877.48,684.4 L883.84,682.46 L890.55,680.53 L897.12,678.31 L903.41,676.93 L910.04,677.76 L916.82,681.63 L923.46,686.34 L930.1,690.22 L936.39,692.71 L942.96,694.92 L949.74,696.58 L957.08,698.24 L963.78,700.18 L970.98,701.57 L977.76,702.67 L984.96,704.33 L991.81,705.44 L998.59,706.55 L1002.5,707.38" fill="none" stroke="#00B050" stroke-width="2.25" stroke-linejoin="round"/>
<rect x="650.92" y="733.75" width="6.7" height="6.5" fill="#fff" stroke="#00B050" stroke-width="1.1"/>
<rect x="654.14" y="733.75" width="6.7" height="6.5" fill="#fff" stroke="#00B050" stroke-width="1.1"/>
<rect x="658.47" y="733.2" width="6.7" height="6.5" fill="#fff" stroke="#00B050" stroke-width="1.1"/>
<rect x="662.8" y="732.37" width="6.7" height="6.5" fill="#fff" stroke="#00B050" stroke-width="1.1"/>
<rect x="667.13" y="730.98" width="6.7" height="6.5" fill="#fff" stroke="#00B050" stroke-width="1.1"/>
<rect x="673.21" y="728.21" width="6.7" height="6.5" fill="#fff" stroke="#00B050" stroke-width="1.1"/>
<rect x="678.67" y="722.95" width="6.7" height="6.5" fill="#fff" stroke="#00B050" stroke-width="1.1"/>
<rect x="683.7" y="715.48" width="6.7" height="6.5" fill="#fff" stroke="#00B050" stroke-width="1.1"/>
<rect x="689.01" y="703.02" width="6.7" height="6.5" fill="#fff" stroke="#00B050" stroke-width="1.1"/>
<rect x="694.53" y="686.13" width="6.7" height="6.5" fill="#fff" stroke="#00B050" stroke-width="1.1"/>
<rect x="699.84" y="669.8" width="6.7" height="6.5" fill="#fff" stroke="#00B050" stroke-width="1.1"/>
<rect x="705.92" y="655.96" width="6.7" height="6.5" fill="#fff" stroke="#00B050" stroke-width="1.1"/>
<rect x="711.72" y="646.82" width="6.7" height="6.5" fill="#fff" stroke="#00B050" stroke-width="1.1"/>
<rect x="718.01" y="643.23" width="6.7" height="6.5" fill="#fff" stroke="#00B050" stroke-width="1.1"/>
<rect x="724.09" y="642.39" width="6.7" height="6.5" fill="#fff" stroke="#00B050" stroke-width="1.1"/>
<rect x="730.8" y="643.23" width="6.7" height="6.5" fill="#fff" stroke="#00B050" stroke-width="1.1"/>
<rect x="737.44" y="645.16" width="6.7" height="6.5" fill="#fff" stroke="#00B050" stroke-width="1.1"/>
<rect x="744.29" y="646.82" width="6.7" height="6.5" fill="#fff" stroke="#00B050" stroke-width="1.1"/>
<rect x="751.13" y="648.49" width="6.7" height="6.5" fill="#fff" stroke="#00B050" stroke-width="1.1"/>
<rect x="757.77" y="649.59" width="6.7" height="6.5" fill="#fff" stroke="#00B050" stroke-width="1.1"/>
<rect x="764.9" y="653.75" width="6.7" height="6.5" fill="#fff" stroke="#00B050" stroke-width="1.1"/>
<rect x="772.17" y="657.62" width="6.7" height="6.5" fill="#fff" stroke="#00B050" stroke-width="1.1"/>
<rect x="779.51" y="662.05" width="6.7" height="6.5" fill="#fff" stroke="#00B050" stroke-width="1.1"/>
<rect x="786.22" y="666.2" width="6.7" height="6.5" fill="#fff" stroke="#00B050" stroke-width="1.1"/>
<rect x="792.85" y="669.8" width="6.7" height="6.5" fill="#fff" stroke="#00B050" stroke-width="1.1"/>
<rect x="799.91" y="672.85" width="6.7" height="6.5" fill="#fff" stroke="#00B050" stroke-width="1.1"/>
<rect x="806.69" y="673.95" width="6.7" height="6.5" fill="#fff" stroke="#00B050" stroke-width="1.1"/>
<rect x="813.47" y="674.78" width="6.7" height="6.5" fill="#fff" stroke="#00B050" stroke-width="1.1"/>
<rect x="820.53" y="676.17" width="6.7" height="6.5" fill="#fff" stroke="#00B050" stroke-width="1.1"/>
<rect x="827.45" y="677.28" width="6.7" height="6.5" fill="#fff" stroke="#00B050" stroke-width="1.1"/>
<rect x="833.81" y="678.66" width="6.7" height="6.5" fill="#fff" stroke="#00B050" stroke-width="1.1"/>
<rect x="840.79" y="679.49" width="6.7" height="6.5" fill="#fff" stroke="#00B050" stroke-width="1.1"/>
<rect x="847.36" y="680.32" width="6.7" height="6.5" fill="#fff" stroke="#00B050" stroke-width="1.1"/>
<rect x="854.21" y="681.15" width="6.7" height="6.5" fill="#fff" stroke="#00B050" stroke-width="1.1"/>
<rect x="860.99" y="681.15" width="6.7" height="6.5" fill="#fff" stroke="#00B050" stroke-width="1.1"/>
<rect x="867.77" y="681.43" width="6.7" height="6.5" fill="#fff" stroke="#00B050" stroke-width="1.1"/>
<rect x="874.13" y="681.15" width="6.7" height="6.5" fill="#fff" stroke="#00B050" stroke-width="1.1"/>
<rect x="880.49" y="679.21" width="6.7" height="6.5" fill="#fff" stroke="#00B050" stroke-width="1.1"/>
<rect x="887.2" y="677.28" width="6.7" height="6.5" fill="#fff" stroke="#00B050" stroke-width="1.1"/>
<rect x="893.77" y="675.06" width="6.7" height="6.5" fill="#fff" stroke="#00B050" stroke-width="1.1"/>
<rect x="900.06" y="673.68" width="6.7" height="6.5" fill="#fff" stroke="#00B050" stroke-width="1.1"/>
<rect x="906.69" y="674.51" width="6.7" height="6.5" fill="#fff" stroke="#00B050" stroke-width="1.1"/>
<rect x="913.47" y="678.38" width="6.7" height="6.5" fill="#fff" stroke="#00B050" stroke-width="1.1"/>
<rect x="920.11" y="683.09" width="6.7" height="6.5" fill="#fff" stroke="#00B050" stroke-width="1.1"/>
<rect x="926.75" y="686.97" width="6.7" height="6.5" fill="#fff" stroke="#00B050" stroke-width="1.1"/>
<rect x="933.04" y="689.46" width="6.7" height="6.5" fill="#fff" stroke="#00B050" stroke-width="1.1"/>
<rect x="939.61" y="691.67" width="6.7" height="6.5" fill="#fff" stroke="#00B050" stroke-width="1.1"/>
<rect x="946.39" y="693.33" width="6.7" height="6.5" fill="#fff" stroke="#00B050" stroke-width="1.1"/>
<rect x="953.73" y="694.99" width="6.7" height="6.5" fill="#fff" stroke="#00B050" stroke-width="1.1"/>
<rect x="960.43" y="696.93" width="6.7" height="6.5" fill="#fff" stroke="#00B050" stroke-width="1.1"/>
<rect x="967.63" y="698.32" width="6.7" height="6.5" fill="#fff" stroke="#00B050" stroke-width="1.1"/>
<rect x="974.41" y="699.42" width="6.7" height="6.5" fill="#fff" stroke="#00B050" stroke-width="1.1"/>
<rect x="981.61" y="701.08" width="6.7" height="6.5" fill="#fff" stroke="#00B050" stroke-width="1.1"/>
<rect x="988.46" y="702.19" width="6.7" height="6.5" fill="#fff" stroke="#00B050" stroke-width="1.1"/>
<rect x="995.24" y="703.3" width="6.7" height="6.5" fill="#fff" stroke="#00B050" stroke-width="1.1"/>
<path d="M600.32,737 L602.98,737 L605.7,737 L608.36,737 L611.08,737 L613.81,737 L616.46,737 L619.75,736.45 L623.59,726.48 L627.37,712.09 L631.28,687.45 L635.89,652.01 L640.57,613.26 L645.82,579.21 L650.01,560.66 L655.18,555.4 L660.56,554.84 L665.8,558.44 L671.32,559.55 L677.4,561.49 L683.48,559.55 L689.21,560.1 L695.08,561.49 L700.6,565.92 L706.68,568.13 L712.48,570.62 L718.49,574.78 L725.13,575.61 L731.49,577.54 L737.36,579.48 L743.37,581.97 L749.52,587.79 L755.67,587.79 L761.54,592.22 L767.55,594.15 L773.77,597.75 L780.76,600.24 L787.12,603.01 L793.48,606.89 L799.56,609.1 L805.78,611.87 L811.72,616.02 L817.73,618.79 L823.81,621.84 L830.03,625.16 L836.25,624.33 L842.12,627.1 L847.99,629.03 L853.86,630.14 L860.01,630.42 L865.88,632.08 L871.75,630.14 L877.34,629.59 L882.93,630.7 L889.01,630.14 L894.67,632.91 L900.96,635.4 L906.2,639.28 L911.51,643.98 L917.73,649.24 L923.88,652.57 L929.47,655.33 L935.34,658.66 L940.86,662.53 L947.5,666.13 L953.86,669.45 L960.29,673.88 L966.93,677.48 L972.94,682.46 L979.02,685.51 L985.24,689.38 L991.46,693.26 L997.68,697.41 L1002.5,699.07" fill="none" stroke="#FF0000" stroke-width="2.25" stroke-linejoin="round"/>
<path d="M600.32,733.35 L604.27,740.65 L596.37,740.65 Z" fill="#fff" stroke="#FF0000" stroke-width="1.1" stroke-linejoin="miter"/>
<path d="M602.98,733.35 L606.93,740.65 L599.03,740.65 Z" fill="#fff" stroke="#FF0000" stroke-width="1.1" stroke-linejoin="miter"/>
<path d="M605.7,733.35 L609.65,740.65 L601.75,740.65 Z" fill="#fff" stroke="#FF0000" stroke-width="1.1" stroke-linejoin="miter"/>
<path d="M608.36,733.35 L612.31,740.65 L604.41,740.65 Z" fill="#fff" stroke="#FF0000" stroke-width="1.1" stroke-linejoin="miter"/>
<path d="M611.08,733.35 L615.03,740.65 L607.13,740.65 Z" fill="#fff" stroke="#FF0000" stroke-width="1.1" stroke-linejoin="miter"/>
<path d="M613.81,733.35 L617.76,740.65 L609.86,740.65 Z" fill="#fff" stroke="#FF0000" stroke-width="1.1" stroke-linejoin="miter"/>
<path d="M616.46,733.35 L620.41,740.65 L612.51,740.65 Z" fill="#fff" stroke="#FF0000" stroke-width="1.1" stroke-linejoin="miter"/>
<path d="M619.75,732.8 L623.7,740.1 L615.8,740.1 Z" fill="#fff" stroke="#FF0000" stroke-width="1.1" stroke-linejoin="miter"/>
<path d="M623.59,722.83 L627.54,730.13 L619.64,730.13 Z" fill="#fff" stroke="#FF0000" stroke-width="1.1" stroke-linejoin="miter"/>
<path d="M627.37,708.44 L631.32,715.74 L623.42,715.74 Z" fill="#fff" stroke="#FF0000" stroke-width="1.1" stroke-linejoin="miter"/>
<path d="M631.28,683.8 L635.23,691.1 L627.33,691.1 Z" fill="#fff" stroke="#FF0000" stroke-width="1.1" stroke-linejoin="miter"/>
<path d="M635.89,648.36 L639.84,655.66 L631.94,655.66 Z" fill="#fff" stroke="#FF0000" stroke-width="1.1" stroke-linejoin="miter"/>
<path d="M640.57,609.61 L644.52,616.91 L636.62,616.91 Z" fill="#fff" stroke="#FF0000" stroke-width="1.1" stroke-linejoin="miter"/>
<path d="M645.82,575.56 L649.77,582.86 L641.87,582.86 Z" fill="#fff" stroke="#FF0000" stroke-width="1.1" stroke-linejoin="miter"/>
<path d="M650.01,557.01 L653.96,564.31 L646.06,564.31 Z" fill="#fff" stroke="#FF0000" stroke-width="1.1" stroke-linejoin="miter"/>
<path d="M655.18,551.75 L659.13,559.05 L651.23,559.05 Z" fill="#fff" stroke="#FF0000" stroke-width="1.1" stroke-linejoin="miter"/>
<path d="M660.56,551.19 L664.51,558.49 L656.61,558.49 Z" fill="#fff" stroke="#FF0000" stroke-width="1.1" stroke-linejoin="miter"/>
<path d="M665.8,554.79 L669.75,562.09 L661.85,562.09 Z" fill="#fff" stroke="#FF0000" stroke-width="1.1" stroke-linejoin="miter"/>
<path d="M671.32,555.9 L675.27,563.2 L667.37,563.2 Z" fill="#fff" stroke="#FF0000" stroke-width="1.1" stroke-linejoin="miter"/>
<path d="M677.4,557.84 L681.35,565.14 L673.45,565.14 Z" fill="#fff" stroke="#FF0000" stroke-width="1.1" stroke-linejoin="miter"/>
<path d="M683.48,555.9 L687.43,563.2 L679.53,563.2 Z" fill="#fff" stroke="#FF0000" stroke-width="1.1" stroke-linejoin="miter"/>
<path d="M689.21,556.45 L693.16,563.75 L685.26,563.75 Z" fill="#fff" stroke="#FF0000" stroke-width="1.1" stroke-linejoin="miter"/>
<path d="M695.08,557.84 L699.03,565.14 L691.13,565.14 Z" fill="#fff" stroke="#FF0000" stroke-width="1.1" stroke-linejoin="miter"/>
<path d="M700.6,562.27 L704.55,569.57 L696.65,569.57 Z" fill="#fff" stroke="#FF0000" stroke-width="1.1" stroke-linejoin="miter"/>
<path d="M706.68,564.48 L710.63,571.78 L702.73,571.78 Z" fill="#fff" stroke="#FF0000" stroke-width="1.1" stroke-linejoin="miter"/>
<path d="M712.48,566.97 L716.43,574.27 L708.53,574.27 Z" fill="#fff" stroke="#FF0000" stroke-width="1.1" stroke-linejoin="miter"/>
<path d="M718.49,571.13 L722.44,578.43 L714.54,578.43 Z" fill="#fff" stroke="#FF0000" stroke-width="1.1" stroke-linejoin="miter"/>
<path d="M725.13,571.96 L729.08,579.26 L721.18,579.26 Z" fill="#fff" stroke="#FF0000" stroke-width="1.1" stroke-linejoin="miter"/>
<path d="M731.49,573.89 L735.44,581.19 L727.54,581.19 Z" fill="#fff" stroke="#FF0000" stroke-width="1.1" stroke-linejoin="miter"/>
<path d="M737.36,575.83 L741.31,583.13 L733.41,583.13 Z" fill="#fff" stroke="#FF0000" stroke-width="1.1" stroke-linejoin="miter"/>
<path d="M743.37,578.32 L747.32,585.62 L739.42,585.62 Z" fill="#fff" stroke="#FF0000" stroke-width="1.1" stroke-linejoin="miter"/>
<path d="M749.52,584.14 L753.47,591.44 L745.57,591.44 Z" fill="#fff" stroke="#FF0000" stroke-width="1.1" stroke-linejoin="miter"/>
<path d="M755.67,584.14 L759.62,591.44 L751.72,591.44 Z" fill="#fff" stroke="#FF0000" stroke-width="1.1" stroke-linejoin="miter"/>
<path d="M761.54,588.57 L765.49,595.87 L757.59,595.87 Z" fill="#fff" stroke="#FF0000" stroke-width="1.1" stroke-linejoin="miter"/>
<path d="M767.55,590.5 L771.5,597.8 L763.6,597.8 Z" fill="#fff" stroke="#FF0000" stroke-width="1.1" stroke-linejoin="miter"/>
<path d="M773.77,594.1 L777.72,601.4 L769.82,601.4 Z" fill="#fff" stroke="#FF0000" stroke-width="1.1" stroke-linejoin="miter"/>
<path d="M780.76,596.59 L784.71,603.89 L776.81,603.89 Z" fill="#fff" stroke="#FF0000" stroke-width="1.1" stroke-linejoin="miter"/>
<path d="M787.12,599.36 L791.07,606.66 L783.17,606.66 Z" fill="#fff" stroke="#FF0000" stroke-width="1.1" stroke-linejoin="miter"/>
<path d="M793.48,603.24 L797.43,610.54 L789.53,610.54 Z" fill="#fff" stroke="#FF0000" stroke-width="1.1" stroke-linejoin="miter"/>
<path d="M799.56,605.45 L803.51,612.75 L795.61,612.75 Z" fill="#fff" stroke="#FF0000" stroke-width="1.1" stroke-linejoin="miter"/>
<path d="M805.78,608.22 L809.73,615.52 L801.83,615.52 Z" fill="#fff" stroke="#FF0000" stroke-width="1.1" stroke-linejoin="miter"/>
<path d="M811.72,612.37 L815.67,619.67 L807.77,619.67 Z" fill="#fff" stroke="#FF0000" stroke-width="1.1" stroke-linejoin="miter"/>
<path d="M817.73,615.14 L821.68,622.44 L813.78,622.44 Z" fill="#fff" stroke="#FF0000" stroke-width="1.1" stroke-linejoin="miter"/>
<path d="M823.81,618.19 L827.76,625.49 L819.86,625.49 Z" fill="#fff" stroke="#FF0000" stroke-width="1.1" stroke-linejoin="miter"/>
<path d="M830.03,621.51 L833.98,628.81 L826.08,628.81 Z" fill="#fff" stroke="#FF0000" stroke-width="1.1" stroke-linejoin="miter"/>
<path d="M836.25,620.68 L840.2,627.98 L832.3,627.98 Z" fill="#fff" stroke="#FF0000" stroke-width="1.1" stroke-linejoin="miter"/>
<path d="M842.12,623.45 L846.07,630.75 L838.17,630.75 Z" fill="#fff" stroke="#FF0000" stroke-width="1.1" stroke-linejoin="miter"/>
<path d="M847.99,625.38 L851.94,632.68 L844.04,632.68 Z" fill="#fff" stroke="#FF0000" stroke-width="1.1" stroke-linejoin="miter"/>
<path d="M853.86,626.49 L857.81,633.79 L849.91,633.79 Z" fill="#fff" stroke="#FF0000" stroke-width="1.1" stroke-linejoin="miter"/>
<path d="M860.01,626.77 L863.96,634.07 L856.06,634.07 Z" fill="#fff" stroke="#FF0000" stroke-width="1.1" stroke-linejoin="miter"/>
<path d="M865.88,628.43 L869.83,635.73 L861.93,635.73 Z" fill="#fff" stroke="#FF0000" stroke-width="1.1" stroke-linejoin="miter"/>
<path d="M871.75,626.49 L875.7,633.79 L867.8,633.79 Z" fill="#fff" stroke="#FF0000" stroke-width="1.1" stroke-linejoin="miter"/>
<path d="M877.34,625.94 L881.29,633.24 L873.39,633.24 Z" fill="#fff" stroke="#FF0000" stroke-width="1.1" stroke-linejoin="miter"/>
<path d="M882.93,627.05 L886.88,634.35 L878.98,634.35 Z" fill="#fff" stroke="#FF0000" stroke-width="1.1" stroke-linejoin="miter"/>
<path d="M889.01,626.49 L892.96,633.79 L885.06,633.79 Z" fill="#fff" stroke="#FF0000" stroke-width="1.1" stroke-linejoin="miter"/>
<path d="M894.67,629.26 L898.62,636.56 L890.72,636.56 Z" fill="#fff" stroke="#FF0000" stroke-width="1.1" stroke-linejoin="miter"/>
<path d="M900.96,631.75 L904.91,639.05 L897.01,639.05 Z" fill="#fff" stroke="#FF0000" stroke-width="1.1" stroke-linejoin="miter"/>
<path d="M906.2,635.63 L910.15,642.93 L902.25,642.93 Z" fill="#fff" stroke="#FF0000" stroke-width="1.1" stroke-linejoin="miter"/>
<path d="M911.51,640.33 L915.46,647.63 L907.56,647.63 Z" fill="#fff" stroke="#FF0000" stroke-width="1.1" stroke-linejoin="miter"/>
<path d="M917.73,645.59 L921.68,652.89 L913.78,652.89 Z" fill="#fff" stroke="#FF0000" stroke-width="1.1" stroke-linejoin="miter"/>
<path d="M923.88,648.92 L927.83,656.22 L919.93,656.22 Z" fill="#fff" stroke="#FF0000" stroke-width="1.1" stroke-linejoin="miter"/>
<path d="M929.47,651.68 L933.42,658.98 L925.52,658.98 Z" fill="#fff" stroke="#FF0000" stroke-width="1.1" stroke-linejoin="miter"/>
<path d="M935.34,655.01 L939.29,662.31 L931.39,662.31 Z" fill="#fff" stroke="#FF0000" stroke-width="1.1" stroke-linejoin="miter"/>
<path d="M940.86,658.88 L944.81,666.18 L936.91,666.18 Z" fill="#fff" stroke="#FF0000" stroke-width="1.1" stroke-linejoin="miter"/>
<path d="M947.5,662.48 L951.45,669.78 L943.55,669.78 Z" fill="#fff" stroke="#FF0000" stroke-width="1.1" stroke-linejoin="miter"/>
<path d="M953.86,665.8 L957.81,673.1 L949.91,673.1 Z" fill="#fff" stroke="#FF0000" stroke-width="1.1" stroke-linejoin="miter"/>
<path d="M960.29,670.23 L964.24,677.53 L956.34,677.53 Z" fill="#fff" stroke="#FF0000" stroke-width="1.1" stroke-linejoin="miter"/>
<path d="M966.93,673.83 L970.88,681.13 L962.98,681.13 Z" fill="#fff" stroke="#FF0000" stroke-width="1.1" stroke-linejoin="miter"/>
<path d="M972.94,678.81 L976.89,686.11 L968.99,686.11 Z" fill="#fff" stroke="#FF0000" stroke-width="1.1" stroke-linejoin="miter"/>
<path d="M979.02,681.86 L982.97,689.16 L975.07,689.16 Z" fill="#fff" stroke="#FF0000" stroke-width="1.1" stroke-linejoin="miter"/>
<path d="M985.24,685.73 L989.19,693.03 L981.29,693.03 Z" fill="#fff" stroke="#FF0000" stroke-width="1.1" stroke-linejoin="miter"/>
<path d="M991.46,689.61 L995.41,696.91 L987.51,696.91 Z" fill="#fff" stroke="#FF0000" stroke-width="1.1" stroke-linejoin="miter"/>
<path d="M997.68,693.76 L1001.63,701.06 L993.73,701.06 Z" fill="#fff" stroke="#FF0000" stroke-width="1.1" stroke-linejoin="miter"/>
<text transform="translate(609.74,527.8) scale(1.16,1)" font-family="'Liberation Serif', serif" font-size="30">(</text>
<text x="622" y="532" font-family="'Liberation Serif', serif" font-size="34" font-weight="bold">d</text>
<text transform="translate(640.24,527.8) scale(1.16,1)" font-family="'Liberation Serif', serif" font-size="30">)</text>
<line x1="586.6" y1="416.8" x2="613" y2="416.8" stroke="#0070C0" stroke-width="2.25"/>
<path d="M599.8,412.95 L603.35,416.8 L599.8,420.65 L596.25,416.8 Z" fill="#fff" stroke="#0070C0" stroke-width="1.1"/>
<text x="615.2" y="422.3" font-size="15.55" text-anchor="start" font-family="'Liberation Sans', sans-serif" >A support just prepared</text>
<line x1="586.6" y1="446.8" x2="613" y2="446.8" stroke="#00B050" stroke-width="2.25"/>
<rect x="596.45" y="443.55" width="6.7" height="6.5" fill="#fff" stroke="#00B050" stroke-width="1.1"/>
<text x="615.2" y="452.3" font-size="15.55" text-anchor="start" font-family="'Liberation Sans', sans-serif" >A support calcined at 400ºC and exposed to ambient air</text>
<line x1="586.6" y1="476.8" x2="613" y2="476.8" stroke="#FF0000" stroke-width="2.25"/>
<path d="M599.8,473.15 L603.75,480.45 L595.85,480.45 Z" fill="#fff" stroke="#FF0000" stroke-width="1.1" stroke-linejoin="miter"/>
<text x="615.2" y="482.3" font-size="15.55" text-anchor="start" font-family="'Liberation Sans', sans-serif" >Pt/A catalyst after reaction</text>
<text transform="translate(533.7,636.3) rotate(-90)" x="0" y="0" font-family="'Liberation Sans', sans-serif" font-size="18">F<tspan font-size="12" dy="5">H20</tspan><tspan dy="-5">  (µmol g</tspan><tspan font-size="12" dy="-6">-1</tspan><tspan dy="6"> s</tspan><tspan font-size="12" dy="-6">-1</tspan><tspan dy="6">)</tspan></text>
<text x="803.7" y="782.8" font-size="18" text-anchor="middle" font-family="'Liberation Sans', sans-serif" >T (ºC)</text>
</svg>
</body></html>
